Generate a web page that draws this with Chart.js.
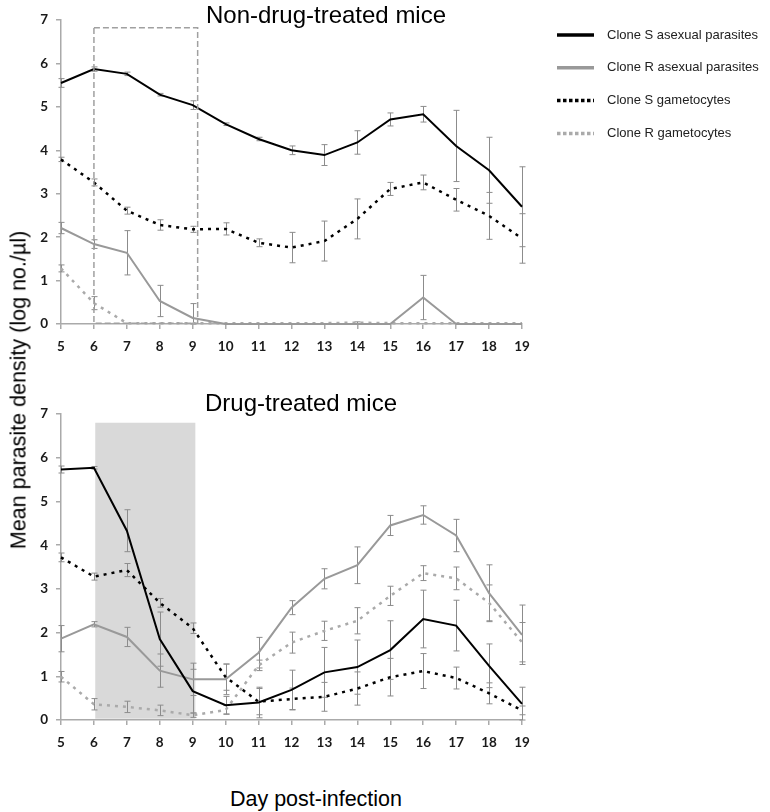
<!DOCTYPE html>
<html>
<head>
<meta charset="utf-8">
<title>Parasite density</title>
<script src="https://cdn.jsdelivr.net/npm/chart.js@4.4.1/dist/chart.umd.min.js"></script>
<style>
    html, body { margin: 0; padding: 0; background: #fff; }
    #page { position: relative; width: 770px; height: 812px; overflow: hidden; font-family: 'Liberation Sans', Arial, sans-serif; color: #000; }
    .panel { position: absolute; left: 0; width: 770px; }
    .title { position: absolute; font-size: 24px; white-space: nowrap; transform: translate(-50%, -50%); }
    #topTitle { left: 326px; top: 15px; }
    #bottomTitle { left: 301px; top: 403px; }
    #yLabel { position: absolute; left: 19px; top: 390px; font-size: 21.5px; white-space: nowrap; transform: translate(-50%, -50%) rotate(-90deg); }
    #xLabel { position: absolute; left: 316px; top: 799px; font-size: 21.5px; white-space: nowrap; transform: translate(-50%, -50%); }
</style>
</head>
<body>
<div id="page">
    <canvas id="topChart" class="panel" width="770" height="356" style="top:0"></canvas>
    <canvas id="bottomChart" class="panel" width="770" height="357" style="top:395px"></canvas>
    <div id="topTitle" class="title">Non-drug-treated mice</div>
    <div id="bottomTitle" class="title">Drug-treated mice</div>
    <div id="yLabel">Mean parasite density (log no./µl)</div>
    <div id="xLabel">Day post-infection</div>
</div>
<script>
// Days post-infection
const days = [5, 6, 7, 8, 9, 10, 11, 12, 13, 14, 15, 16, 17, 18, 19];
const seriesLabels = ['Clone S asexual parasites', 'Clone R asexual parasites', 'Clone S gametocytes', 'Clone R gametocytes'];
const yTicks = [0, 1, 2, 3, 4, 5, 6, 7];

// Non-drug-treated mice (mean, +/- error)
const nonSAsex    = [5.55, 5.87, 5.76, 5.28, 5.04, 4.60, 4.26, 4.00, 3.89, 4.18, 4.71, 4.83, 4.10, 3.54, 2.70];
const nonSAsexErr = [0.10, 0.05, 0.04, 0.03, 0.10, 0.03, 0.04, 0.10, 0.24, 0.27, 0.15, 0.18, 0.82, 0.76, 0.92];
const nonRAsex    = [2.21, 1.84, 1.64, 0.53, 0.14, 0, 0, 0, 0, 0, 0, 0.61, 0, 0, 0];
const nonRAsexErr = [0.13, 0.10, 0.51, 0.36, 0.33, 0, 0, 0, 0, 0, 0, 0.51, 0, 0, 0];
const nonSGam     = [3.79, 3.26, 2.61, 2.28, 2.18, 2.19, 1.87, 1.76, 1.91, 2.42, 3.11, 3.26, 2.86, 2.49, 1.97];
const nonSGamErr  = [0.05, 0.08, 0.08, 0.12, 0.07, 0.14, 0.09, 0.35, 0.46, 0.46, 0.15, 0.17, 0.26, 0.54, 0.57];
const nonRGam     = [1.28, 0.48, 0.02, 0.02, 0.02, 0.02, 0.02, 0.02, 0.02, 0.03, 0.02, 0.02, 0.02, 0.02, 0.02];
const nonRGamErr  = [0.08, 0.15, 0, 0, 0, 0, 0, 0, 0, 0.02, 0, 0, 0, 0, 0];

// Drug-treated mice
const drugSAsex    = [5.73, 5.77, 4.33, 1.85, 0.66, 0.34, 0.40, 0.69, 1.09, 1.21, 1.60, 2.31, 2.16, 1.24, 0.37];
const drugSAsexErr = [0.08, 0.03, 0.48, 0.62, 0.50, 0.20, 0.35, 0.45, 0.57, 0.62, 0.67, 0.66, 0.58, 0.50, 0.38];
const drugRAsex    = [1.86, 2.19, 1.90, 1.13, 0.93, 0.93, 1.54, 2.57, 3.23, 3.54, 4.45, 4.69, 4.22, 2.90, 1.95];
const drugRAsexErr = [0.30, 0.06, 0.22, 0.38, 0.37, 0.35, 0.35, 0.16, 0.23, 0.42, 0.23, 0.21, 0.37, 0.65, 0.68];
const drugSGam     = [3.72, 3.28, 3.43, 2.68, 2.10, 0.98, 0.42, 0.48, 0.53, 0.72, 0.98, 1.12, 0.96, 0.61, 0.22];
const drugSGamErr  = [0.10, 0.08, 0.15, 0.10, 0.12, 0.30, 0.30, 0.25, 0.33, 0.38, 0.43, 0.40, 0.25, 0.24, 0.10];
const drugRGam     = [0.99, 0.36, 0.30, 0.22, 0.11, 0.23, 1.25, 1.77, 2.04, 2.27, 2.84, 3.36, 3.24, 2.68, 1.78];
const drugRGamErr  = [0.12, 0.13, 0.13, 0.12, 0.05, 0.10, 0.12, 0.24, 0.22, 0.30, 0.22, 0.17, 0.26, 0.41, 0.45];

// Drug treatment window (days)
const treatStart = 6;
const treatEnd = 9.1;

const lineStyles = [
    { color: '#000000', width: 2, dash: [] },
    { color: '#999999', width: 2, dash: [] },
    { color: '#000000', width: 2.5, dash: [3, 5] },
    { color: '#aaaaaa', width: 2.5, dash: [3, 5] }
];

// Draws the treatment window: shaded or dashed outline
const treatmentBox = {
    id: 'treatmentBox',
    beforeDatasetsDraw(chart, args, opts) {
        if (!opts.fill) return;
        const { ctx, scales: { x, y } } = chart;
        const l = x.getPixelForValue(opts.from), r = x.getPixelForValue(opts.to);
        const t = y.getPixelForValue(opts.top), b = y.getPixelForValue(opts.bottom);
        ctx.save();
        ctx.fillStyle = opts.fill;
        ctx.fillRect(l, t, r - l, b - t);
        ctx.restore();
    },
    afterDatasetsDraw(chart, args, opts) {
        if (!opts.outline) return;
        const { ctx, scales: { x, y } } = chart;
        const l = x.getPixelForValue(opts.from), r = x.getPixelForValue(opts.to);
        const t = y.getPixelForValue(opts.top), b = y.getPixelForValue(opts.bottom);
        ctx.save();
        ctx.strokeStyle = opts.outline;
        ctx.lineWidth = 1.5;
        ctx.setLineDash([6, 3]);
        ctx.strokeRect(l, t, r - l, b - t);
        ctx.restore();
    }
};

// Vertical error bars with caps
const errorBars = {
    id: 'errorBars',
    beforeDatasetsDraw(chart) {
        const { ctx, scales: { x, y } } = chart;
        ctx.save();
        ctx.strokeStyle = '#8c8c8c';
        ctx.lineWidth = 1;
        chart.data.datasets.forEach(ds => {
            ds.data.forEach((pt, i) => {
                const e = ds.errors[i];
                if (!e) return;
                const px = Math.round(x.getPixelForValue(pt.x)) + 0.5;
                const top = y.getPixelForValue(pt.y + e);
                const bot = y.getPixelForValue(Math.max(0, pt.y - e));
                ctx.beginPath();
                ctx.moveTo(px, top);
                ctx.lineTo(px, bot);
                ctx.moveTo(px - 3, top);
                ctx.lineTo(px + 3, top);
                ctx.moveTo(px - 3, bot);
                ctx.lineTo(px + 3, bot);
                ctx.stroke();
            });
        });
        ctx.restore();
    }
};

// Legend at the right of the top panel
const sideLegend = {
    id: 'sideLegend',
    afterDraw(chart, args, opts) {
        if (!opts.show) return;
        const ctx = chart.ctx;
        ctx.save();
        ctx.font = '13px "Liberation Sans", Arial, sans-serif';
        ctx.textBaseline = 'middle';
        chart.data.datasets.forEach((ds, i) => {
            const y = opts.top + i * opts.rowGap;
            ctx.strokeStyle = ds.borderColor;
            ctx.lineWidth = 3.5;
            ctx.setLineDash(ds.borderDash.length ? [3.5, 2.5] : []);
            ctx.beginPath();
            ctx.moveTo(opts.left, y);
            ctx.lineTo(opts.left + opts.lineLength, y);
            ctx.stroke();
            ctx.setLineDash([]);
            ctx.fillStyle = '#222';
            ctx.fillText(ds.label, opts.left + opts.lineLength + opts.textGap, y);
        });
        ctx.restore();
    }
};

class ParasiteCharts {
    constructor() {
        this.charts = {};
        this.init();
    }

    init() {
        this.charts.top = this.createPanel('topChart',
            [[nonSAsex, nonSAsexErr], [nonRAsex, nonRAsexErr], [nonSGam, nonSGamErr], [nonRGam, nonRGamErr]],
            { from: treatStart, to: treatEnd + 0.05, top: 6.82, bottom: 0.02, outline: '#a0a0a0', fill: null },
            20, true);

        this.charts.bottom = this.createPanel('bottomChart',
            [[drugSAsex, drugSAsexErr], [drugRAsex, drugRAsexErr], [drugSGam, drugSGamErr], [drugRGam, drugRGamErr]],
            { from: treatStart + 0.04, to: treatEnd - 0.02, top: 6.8, bottom: 0.03, fill: '#d9d9d9', outline: null },
            19, false);
    }

    axisStyle() {
        return {
            grid: { display: true, drawOnChartArea: false, drawTicks: true, tickLength: 5, color: '#aaaaaa', lineWidth: 1.5 },
            border: { display: true, color: '#aaaaaa', width: 1.5 }
        };
    }

    createPanel(canvasId, series, box, padTop, withLegend) {
        const ctx = document.getElementById(canvasId).getContext('2d');
        const tickFont = { family: 'Lato, "DejaVu Sans", sans-serif', size: 13.5, weight: 'bold' };

        const datasets = series.map(([values, errors], i) => ({
            label: seriesLabels[i],
            data: days.map((d, k) => ({ x: d, y: values[k] })),
            errors: errors,
            borderColor: lineStyles[i].color,
            borderWidth: lineStyles[i].width,
            borderDash: lineStyles[i].dash,
            borderCapStyle: 'butt',
            pointRadius: 0,
            tension: 0,
            fill: false,
            clip: false
        }));

        return new Chart(ctx, {
            type: 'line',
            data: { datasets },
            plugins: [treatmentBox, errorBars, sideLegend],
            options: {
                responsive: false,
                animation: false,
                layout: { padding: { top: padTop, right: 248, left: 0, bottom: 0 } },
                plugins: {
                    legend: { display: false },
                    tooltip: { enabled: false },
                    treatmentBox: box,
                    sideLegend: { show: withLegend, left: 557, top: 35, rowGap: 32.8, lineLength: 37, textGap: 13 }
                },
                scales: {
                    x: {
                        type: 'linear',
                        min: days[0],
                        max: days[days.length - 1],
                        ticks: { stepSize: 1, padding: 10, color: '#1a1a1a', font: tickFont },
                        afterFit: s => { s.height = 32; },
                        ...this.axisStyle()
                    },
                    y: {
                        min: yTicks[0],
                        max: yTicks[yTicks.length - 1],
                        ticks: { stepSize: 1, padding: 8, color: '#1a1a1a', font: tickFont },
                        afterFit: s => { s.width = 61; },
                        ...this.axisStyle()
                    }
                }
            }
        });
    }
}

document.addEventListener('DOMContentLoaded', () => {
    new ParasiteCharts();
});
</script>
</body>
</html>
